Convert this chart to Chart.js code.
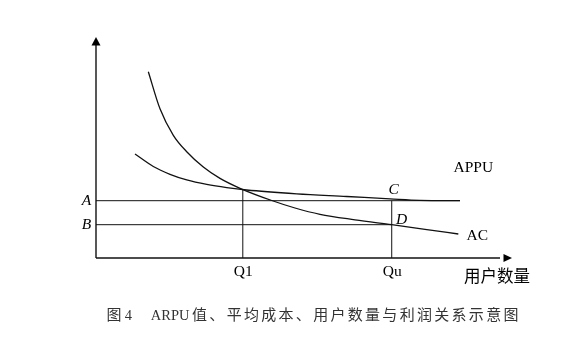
<!DOCTYPE html>
<html><head><meta charset="utf-8">
<script src="https://cdn.jsdelivr.net/npm/chart.js@4"></script>
<style>
html,body{margin:0;padding:0;background:#fff;}
#wrap{position:relative;width:587px;height:357px;overflow:hidden;background:#fff;}
canvas{position:absolute;left:0;top:0;}
#cap{position:absolute;left:106.5px;top:305px;white-space:nowrap;color:#333;font-size:15px;line-height:18px;}
.c{font-family:"Noto Sans CJK SC";letter-spacing:2.3px;}
.r{font-family:"Liberation Serif";font-size:14.5px;}
</style></head><body>
<div id="wrap"><canvas id="c" width="587" height="357"></canvas>
<div id="cap"><span class="c">图</span><span class="r" style="margin-left:1px">4</span><span class="c" style="margin-left:1.4px">　</span><span class="r">ARPU</span><span class="c" style="margin-left:2.6px">值、平均成本、用户数量与利润关系示意图</span></div></div>
<script>
// ---- data (value units) ----
const arpuX = [9.75, 14.33, 18.5, 22.68, 27.68, 32.68, 37.68, 50.18, 62.68, 73.5, 81, 91];
const arpuY = [52, 45.75, 41.85, 39.05, 36.8, 35.2, 34, 32.1, 30.75, 29.55, 28.8, 28.65];
const acX = [13.08, 16, 19.33, 22.68, 26.83, 31, 36, 43.93, 49.75, 56, 64.75, 73.93, 82.25, 90.58];
const acY = [93.15, 74.6, 61.35, 53.15, 45.5, 39.8, 34.85, 28.75, 25, 21.85, 19.1, 16.65, 14.35, 12];
const levelA = 28.65, levelB = 16.65;
const q1 = 36.7, qu = 73.93, q1Top = 34.25;
const levelAEnd = 91;
const xAxisEnd = 104, yAxisTop = 110.5;
const xMarks = ['Q1', 'Qu'];
const xMarkValues = [q1, qu];
const yMarks = ['A', 'B'];
const yMarkValues = [levelA, levelB];
const pointNames = ['C', 'D'];
const seriesNames = ['APPU', 'AC'];
const xAxisTitle = '用户数量';

const pts = (xs, ys) => xs.map((v, i) => ({x: v, y: ys[i]}));
const seg = (x1, y1, x2, y2) => [{x: x1, y: y1}, {x: x2, y: y2}];
const base = {showLine: true, pointRadius: 0, borderColor: '#111', clip: false, fill: false};

const labelPlugin = {
  id: 'labels',
  afterDatasetsDraw(chart) {
    const {ctx, scales: {x, y}} = chart;
    const X = v => x.getPixelForValue(v), Y = v => y.getPixelForValue(v);
    ctx.save();
    ctx.fillStyle = '#000';
    const x0 = X(0), y0 = Y(0), yt = Y(yAxisTop), xt = X(xAxisEnd);
    ctx.beginPath(); ctx.moveTo(x0, yt); ctx.lineTo(x0 - 4.5, yt + 8.5); ctx.lineTo(x0 + 4.5, yt + 8.5); ctx.closePath(); ctx.fill();
    ctx.beginPath(); ctx.moveTo(xt, y0); ctx.lineTo(xt - 8.5, y0 - 4); ctx.lineTo(xt - 8.5, y0 + 4); ctx.closePath(); ctx.fill();
    ctx.textBaseline = 'middle'; ctx.textAlign = 'center';
    ctx.font = 'italic 15.5px "Liberation Serif"';
    yMarks.forEach((t, i) => ctx.fillText(t, x0 - 9.5, Y(yMarkValues[i]) + 0.5));
    ctx.fillText(pointNames[0], X(qu) + 2, Y(levelA) - 10.5);
    ctx.fillText(pointNames[1], X(qu) + 10, Y(levelB) - 5);
    ctx.font = '15.5px "Liberation Serif"';
    xMarks.forEach((t, i) => ctx.fillText(t, X(xMarkValues[i]) + 0.5, y0 + 13.5));
    ctx.fillText(seriesNames[0], X(arpuX[arpuX.length - 1]) + 13.3, Y(arpuY[arpuY.length - 1]) - 32.5);
    ctx.fillText(seriesNames[1], X(acX[acX.length - 1]) + 19, Y(acY[acY.length - 1]) + 2);
    ctx.font = '16.5px "Noto Sans CJK SC"';
    ctx.fillText(xAxisTitle, xt - 15, y0 + 18);
    ctx.restore();
  }
};

new Chart(document.getElementById('c'), {
  type: 'scatter',
  data: {
    datasets: [
      {...base, data: seg(0, 0, xAxisEnd - 3, 0), borderWidth: 1.4},
      {...base, data: seg(0, 0, 0, yAxisTop - 3), borderWidth: 1.4},
      {...base, data: seg(0, levelA, levelAEnd, levelA), borderWidth: 1},
      {...base, data: seg(0, levelB, qu, levelB), borderWidth: 1},
      {...base, data: seg(q1, 0, q1, q1Top), borderWidth: 1},
      {...base, data: seg(qu, 0, qu, levelA), borderWidth: 1},
      {...base, data: pts(arpuX, arpuY), borderWidth: 1.3, cubicInterpolationMode: 'monotone'},
      {...base, data: pts(acX, acY), borderWidth: 1.3, cubicInterpolationMode: 'monotone'}
    ]
  },
  options: {
    responsive: false,
    devicePixelRatio: 1,
    animation: false,
    events: [],
    layout: {padding: {left: 96, right: 59, top: 30, bottom: 99}},
    plugins: {legend: {display: false}, tooltip: {enabled: false}},
    scales: {
      x: {type: 'linear', min: 0, max: 108, display: false},
      y: {type: 'linear', min: 0, max: 114, display: false}
    }
  },
  plugins: [labelPlugin]
});
</script>
</body></html>
